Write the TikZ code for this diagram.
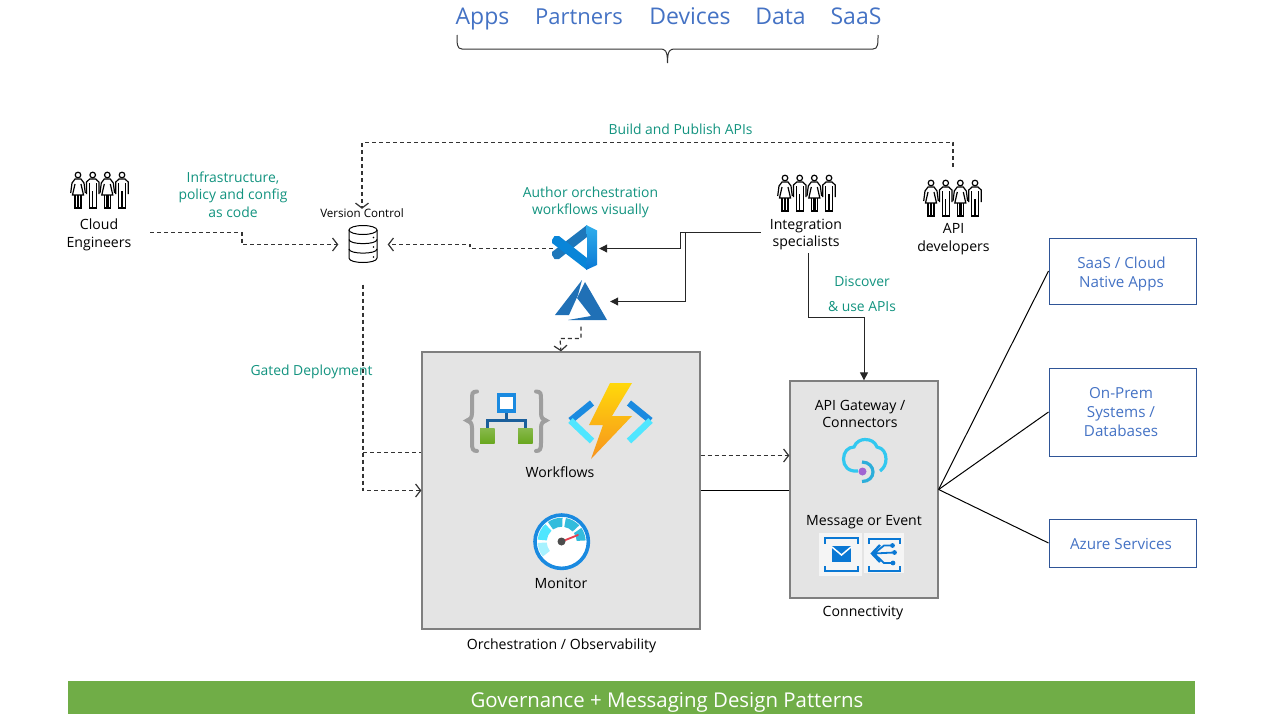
\documentclass[tikz,border=0pt]{standalone}
\usepackage{fontspec}
\setmainfont{Open Sans}
\usetikzlibrary{arrows.meta,calc}
\definecolor{tealtxt}{HTML}{12937F}
\definecolor{bluetxt}{HTML}{4472C4}
\definecolor{boxline}{HTML}{2F5597}
\definecolor{greyfill}{HTML}{E4E4E4}
\definecolor{greyline}{HTML}{7F7F7F}
\definecolor{barfill}{HTML}{70AD47}
\definecolor{azblue}{HTML}{0A78D4}
\definecolor{midblue}{HTML}{1A8AE0}
\definecolor{skyblue}{HTML}{32C8F0}
\definecolor{iceblue}{HTML}{50E6FF}
\definecolor{gaugeblue}{HTML}{34BCDC}
\definecolor{leafgreen}{HTML}{6AA820}
\definecolor{logoblue}{HTML}{2070B6}
\def\gaugeseg[#1](#2:#3){\fill[#1] ($(561.7,541.7)+(#2:15)$) arc (#2:#3:15) -- ($(561.7,541.7)+(#3:24)$) arc (#3:#2:24) -- cycle;}
\tikzset{
	lbl/.style={inner sep=0pt, align=center, font=\fontsize{14.1}{17.4}\selectfont},
	teallbl/.style={inner sep=0pt, align=center, text=tealtxt, font=\fontsize{13.9}{17.4}\selectfont},
	bluelbl/.style={inner sep=0pt, anchor=base, text=bluetxt, font=\fontsize{23}{28}\selectfont},
	syslbl/.style={inner sep=0pt, align=center, text=bluetxt, font=\fontsize{15.2}{19.2}\selectfont},
	greybox/.style={draw=greyline, fill=greyfill, line width=1.3pt, inner sep=0pt},
	sysbox/.style={draw=boxline, line width=1pt, inner sep=0pt, minimum width=147pt},
	iconbox/.style={inner sep=0pt},
	dashline/.style={draw=black!80, line width=1.2pt, dash pattern=on 4pt off 3pt, -{Straight Barb[length=5pt,width=13pt]}},
	dashplain/.style={draw=black!80, line width=1.2pt, dash pattern=on 4pt off 3pt},
	solidline/.style={draw=black!85, line width=1pt, -{Triangle[length=8pt,width=8pt]}},
	thinline/.style={draw=black, line width=1pt},
	woman/.pic={
		\draw[line width=1.2pt] (0,-15) circle (2.8);
		\draw[line width=1.2pt] (-7.3,3) -- (-6,-7) -- (-3,-11) -- (3,-11) -- (6,-7) -- (7.3,3);
		\draw[line width=1.2pt] (-3,-6) -- (-5.5,5) -- (5.5,5) -- (3,-6);
		\draw[line width=1.2pt] (-3,5) -- (-3,18) -- (-0.6,18) -- (-0.6,5) (0.6,5) -- (0.6,18) -- (3,18) -- (3,5);
	},
	man/.pic={
		\draw[line width=1.2pt] (0,-15) circle (2.8);
		\draw[line width=1.2pt] (-6.2,4) -- (-6.2,-8) -- (-3,-11) -- (3,-11) -- (6.2,-8) -- (6.2,4);
		\draw[line width=1.2pt] (-3.5,-7) -- (-3.5,18) -- (3.5,18) -- (3.5,-7) (0,1) -- (0,18);
	},
	people/.pic={
		\pic at (-22,0) {woman};
		\pic at (-7.3,0) {man};
		\pic at (7.3,0) {woman};
		\pic at (22,0) {man};
	},
}

\begin{document}
\begin{tikzpicture}[x=1pt, y=-1pt]
	\useasboundingbox (0,0) rectangle (1280,720);

	%%%%% TOP %%%%%
	\node[bluelbl] (apps) at (482.5,24.5) {Apps};
	\node[bluelbl, font=\fontsize{22}{28}\selectfont] (partners) at (579,24.5) {Partners};
	\node[bluelbl] (devices) at (690,24.5) {Devices};
	\node[bluelbl] (data) at (780.5,24.5) {Data};
	\node[bluelbl] (saas) at (856,24.5) {SaaS};
	\draw[line width=1pt, black!80] (457,35) .. controls (457,44) and (457,49) .. (462,49) -- (660,49) .. controls (665,49) and (667.5,50) .. (667.5,63) .. controls (667.5,50) and (670,49) .. (675,49) -- (873,49) .. controls (878,49) and (878,44) .. (878,35);

	%%%%% BOXES %%%%%
	\node[greybox, minimum width=278pt, minimum height=277pt] (main) at (561,490.5) {};
	\node[greybox, minimum width=148pt, minimum height=217pt] (conn) at (864,489.5) {};
	\node[sysbox, minimum height=66pt] (cloudapps) at (1122.5,271) {};
	\node[sysbox, minimum height=88pt] (onprem) at (1122.5,412) {};
	\node[sysbox, minimum height=48pt] (azuresvc) at (1122.5,543) {};
	\node[syslbl] (cloudappslbl) at (1121.5,274) {SaaS / Cloud\\Native Apps};
	\node[syslbl] (onpremlbl) at (1121,412) {On-Prem\\Systems /\\Databases};
	\node[syslbl] (azuresvclbl) at (1121,544) {Azure Services};
	\node[fill=barfill, minimum width=1127pt, minimum height=33pt, inner sep=0pt] (bar) at (631.5,697.5) {};
	\node[inner sep=0pt, text=white, font=\fontsize{20.4}{24}\selectfont] (bartxt) at (667,702) {Governance + Messaging Design Patterns};

	%%%%% PEOPLE %%%%%
	\pic at (100,190) {people};
	\pic at (807,193) {people};
	\pic at (953,198) {people};
	\node[lbl, minimum width=102pt] (engineers) at (99,232.5) {};
	\node[lbl] (engineerslbl) at (99,235) {Cloud\\Engineers};
	\node[lbl, minimum width=90pt, minimum height=41pt] (integ) at (806,232.5) {};
	\node[lbl] (integlbl) at (806,234.5) {Integration\\specialists};
	\node[lbl] (apidev) at (953.5,239) {API\\developers};
	\coordinate (apidevtop) at (953,167);

	%%%%% LABELS %%%%%
	\node[teallbl] (buildlbl) at (680.5,129) {Build and Publish APIs};
	\node[teallbl] (infralbl) at (233,194.5) {Infrastructure,\\policy and config\\as code};
	\node[teallbl] (authorlbl) at (590.5,202.5) {Author orchestration\\workflows visually};
	\node[teallbl] (discoverlbl) at (862,281) {Discover};
	\node[teallbl] (uselbl) at (862,307) {\& use APIs};
	\node[teallbl] (gatedlbl) at (311.5,371.5) {Gated Deployment};
	\node[lbl, font=\fontsize{11.6}{14}\selectfont] (vclbl) at (362,213.5) {Version Control};
	\node[lbl] (wflbl) at (560,472.5) {Workflows};
	\node[lbl] (monlbl) at (561,583) {Monitor};
	\node[lbl] (gwlbl) at (860,414) {API Gateway /\\Connectors};
	\node[lbl] (msglbl) at (864,522.5) {Message or Event};
	\node[lbl] (connlbl) at (863,613.5) {Connectivity};
	\node[lbl] (mainlbl) at (561.5,645.5) {Orchestration / Observability};

	%%%%% ICON NODES %%%%%
	\node[iconbox, minimum width=49pt, minimum height=38pt] (vc) at (363,244.5) {};
	\node[iconbox, minimum width=46pt, minimum height=46pt] (vscode) at (576,248.5) {};
	\node[iconbox, minimum width=58pt, minimum height=50pt] (azure) at (581,301.5) {};

	%%%%% DATABASE %%%%%
	\draw[line width=1pt, fill=white] (349,230) -- (349,258) .. controls (349,264) and (377,264) .. (377,258) -- (377,230);
	\draw[line width=1pt] (363,230) ellipse [x radius=14, y radius=4.5];
	\draw[line width=1pt] (349,239.5) .. controls (349,245) and (377,245) .. (377,239.5);
	\draw[line width=1pt] (349,249) .. controls (349,254.5) and (377,254.5) .. (377,249);
	\fill (373.5,237.5) circle (0.8) (373.5,247) circle (0.8) (373.5,257) circle (0.8);

	%%%%% VSCODE %%%%%
	\fill[color=logoblue!95!cyan] (587,225) -- (587,237) -- (559,259) -- (554.5,259) -- (552,255) -- (552,252) -- cycle;
	\fill[color=azblue!90!cyan] (587,270) -- (587,258) -- (559,236) -- (554.5,236) -- (552,240) -- (552,243) -- cycle;
	\shade[top color=iceblue!40!midblue, bottom color=azblue] (586,225) -- (597,230.5) -- (597,265) -- (586,270) -- (587,258) -- (587,237) -- cycle;

	%%%%% AZURE %%%%%
	\fill[color=logoblue] (582,280) -- (555,315) -- (569,315) -- (578,295) -- cycle;
	\fill[color=logoblue] (585,282) -- (607,320) -- (568,320) -- (591,316) -- (577,298) -- cycle;

	%%%%% LOGIC APP %%%%%
	\draw[line width=4pt, color=black!38, line cap=round] (477,391.5) .. controls (472,391.5) and (472,394) .. (472,399) -- (472,413) .. controls (472,418) and (470,420) .. (467,420.5) .. controls (470,421) and (472,423) .. (472,428) -- (472,443) .. controls (472,449) and (473,451) .. (477,451);
	\draw[line width=4pt, color=black!38, line cap=round] (536,391.5) .. controls (541,391.5) and (541,394) .. (541,399) -- (541,413) .. controls (541,418) and (543,420) .. (546,420.5) .. controls (543,421) and (541,423) .. (541,428) -- (541,443) .. controls (541,449) and (540,451) .. (536,451);
	\draw[line width=3pt, color=logoblue!85!black] (506,412) -- (506,420) (487,430) -- (487,420) -- (525,420) -- (525,430);
	\draw[line width=3.4pt, draw=midblue, fill=white] (498.5,395) rectangle (514.5,411);
	\shade[top color=leafgreen!80!white, bottom color=leafgreen] (480,428) rectangle (494.5,443);
	\shade[top color=leafgreen!80!white, bottom color=leafgreen] (518,428) rectangle (532.5,443);

	%%%%% FUNCTION %%%%%
	\draw[line width=6.5pt, color=midblue] (592,403) -- (570.5,420.5);
	\draw[line width=6.5pt, color=iceblue] (570.5,420.5) -- (592,441);
	\draw[line width=6.5pt, color=midblue] (629,403) -- (650.5,420.5);
	\draw[line width=6.5pt, color=iceblue] (650.5,420.5) -- (629,441);
	\shade[top color={rgb,255:red,255;green,216;blue,10}, bottom color={rgb,255:red,247;green,147;blue,30}] (610,383) -- (632,383) -- (612,416) -- (632,416) -- (591,459) -- (603,425) -- (589,425) -- cycle;

	%%%%% MONITOR %%%%%
	\draw[line width=3.6pt, draw=midblue, fill=white] (561.7,541.7) circle (26.7);
	\gaugeseg[color=gaugeblue](-3:-35)
	\gaugeseg[color=gaugeblue](-43:-80)
	\gaugeseg[color=gaugeblue](-88:-125)
	\gaugeseg[color=iceblue](-133:-175)
	\gaugeseg[color=iceblue!50!white](-183:-218)
	\draw[line width=1.8pt, color={rgb,255:red,232;green,64;blue,80}, line cap=round] (563,541) -- (578,535);
	\fill[color=black!70] (561.5,541.5) circle (4);

	%%%%% API GATEWAY %%%%%
	\draw[line width=3.2pt, color=skyblue] (858,471) .. controls (848,472) and (843.5,466) .. (843.5,459) .. controls (843.5,452) and (848,447) .. (854,447) .. controls (856,441.5) and (861,439.5) .. (865,439.5) .. controls (871,439.5) and (875,442) .. (877,447) .. controls (883,448) and (886,453) .. (886,459) .. controls (886,464) and (884,468) .. (880,471);
	\draw[line width=3.2pt, color=gaugeblue!80!azblue] (862,462) .. controls (869,462) and (873,467) .. (873,472) .. controls (873,477) and (869,481.5) .. (862,481.5);
	\fill[color={rgb,255:red,160;green,100;blue,210}] (862.5,471.5) circle (4);

	%%%%% MESSAGING %%%%%
	\fill[color=black!4] (819,533) rectangle (862,576);
	\fill[color=black!4] (863.5,533) rectangle (904,573);
	\draw[line width=2.8pt, color=azblue] (825,543.5) -- (825,538) -- (858,538) -- (858,543.5);
	\draw[line width=2.8pt, color=azblue] (825,566) -- (825,571) -- (858,571) -- (858,566);
	\fill[color=azblue] (832,546) rectangle (851,562);
	\draw[line width=1.5pt, color=white] (832,547) -- (841.5,555) -- (851,547);
	\draw[line width=2.8pt, color=azblue] (869,544) -- (869,539) -- (900,539) -- (900,544);
	\draw[line width=2.8pt, color=azblue] (869,566) -- (869,571) -- (900,571) -- (900,566);
	\draw[line width=2.4pt, color=azblue] (880,545) -- (872,553.5) -- (880,562);
	\draw[line width=1.8pt, color=azblue] (874,553.5) -- (884,545.5) -- (892,545.5) (874,553.5) -- (894,552.5) (874,553.5) -- (884,563) -- (893,563);
	\fill[color=azblue] (892.5,545.5) circle (2.4) (894.5,552.5) circle (2.4) (893,563) circle (2.4);

	%%%%% CONNECTORS %%%%%
	\draw[dashline] (apidevtop) -- (953,142.5) -- (362,142.5) -- (vclbl.north);
	\draw[dashline] (engineers.east) -- (242,232.5) -- (242,244.5) -- (vc.west);
	\draw[dashline] (vscode.west) -- (470,248.5) -- (470,244.5) -- (vc.east);
	\draw[solidline] (integ.west) -- (680,232.5) |- (vscode.east);
	\draw[solidline] (integ.west) -- (685,232.5) |- (azure.east);
	\draw[solidline] ([xshift=2.5pt]integ.south) -- (808.5,317.5) -| (conn.north);
	\draw[dashline] (azure.south) -- (581,338.5) -- (560,338.5) -- (main.north);
	\draw[dashline, shorten <=21pt] (vc.south) |- (main.west);
	\coordinate (gatedsplit) at (363,452.5);
	\draw[dashplain] (gatedsplit) -- (gatedsplit -| main.west);
	\coordinate (maindash) at ([yshift=35pt]main.east);
	\draw[dashline] (maindash) -- (maindash -| conn.west);
	\draw[thinline] (main.east) -- (main.east -| conn.west);
	\draw[thinline] (conn.east) -- (cloudapps.west);
	\draw[thinline] (conn.east) -- (onprem.west);
	\draw[thinline] (conn.east) -- (azuresvc.west);
\end{tikzpicture}
\end{document}
